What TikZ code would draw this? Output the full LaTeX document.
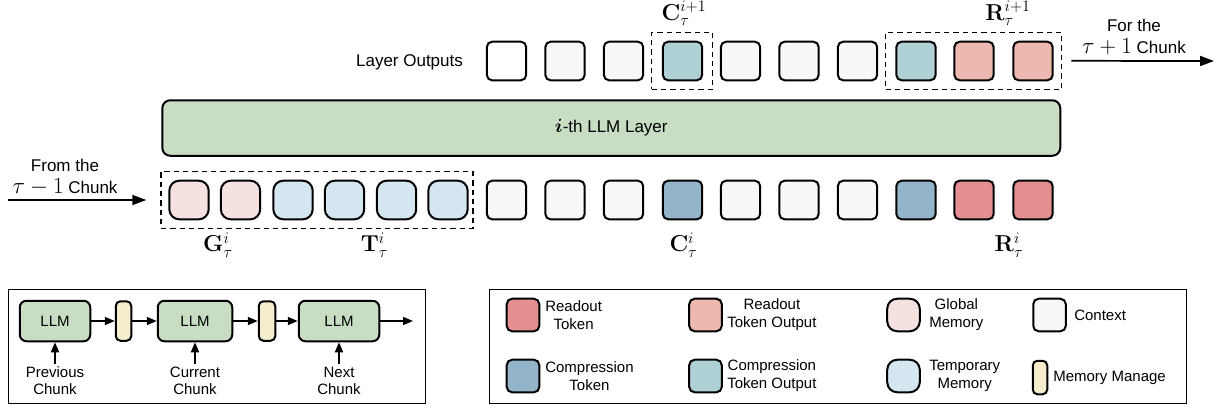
\documentclass[tikz,border=0pt]{standalone}
\usepackage[no-math]{fontspec}
\setmainfont{Liberation Sans}
\usepackage{bm}
\usetikzlibrary{arrows.meta}
\newcommand{\pxu}{0.75pt}
\definecolor{ctxc}{HTML}{F7F7F7}
\definecolor{llmg}{HTML}{C8DDC4}
\definecolor{cmpt}{HTML}{94B5C9}
\definecolor{cmpo}{HTML}{AFD0D4}
\definecolor{rdt}{HTML}{E48F91}
\definecolor{rdo}{HTML}{EDB8AF}
\definecolor{glob}{HTML}{F5E1E0}
\definecolor{temp}{HTML}{D4E7F0}
\definecolor{mman}{HTML}{F5EDCB}
\begin{document}
\begin{tikzpicture}[x=0.75pt,y=-0.75pt,
  tok/.style={draw, line width=1.5pt, rounded corners=4pt, minimum width=29.5pt, minimum height=29pt, inner sep=0pt},
  memtok/.style={tok, rounded corners=7.5pt},
  dbox/.style={draw, line width=1.1pt, dash pattern=on 4pt off 3pt, inner sep=0pt},
  lbl/.style={font=\fontsize{12.75}{15}\selectfont, align=center, inner sep=0pt},
  mth/.style={inner sep=0pt, font=\fontsize{17}{20}\selectfont},
  big/.style={line width=1.3pt, -{Triangle[length=10.5pt,width=7.5pt]}},
  small/.style={line width=1.2pt, -{Triangle[length=7.5pt,width=6pt]}},
  sllm/.style={draw, line width=1.5pt, fill=llmg, rounded corners=5pt, minimum height=40.5*\pxu, inner sep=0pt, font=\fontsize{11.25}{13}\selectfont},
  smem/.style={draw, line width=1.5pt, fill=mman, rounded corners=3.5pt, inner sep=0pt},
  frame/.style={draw, line width=1pt, inner sep=0pt},
  leg/.style={font=\fontsize{11.25}{13.5}\selectfont, align=center, inner sep=0pt, anchor=west},
  lsq/.style={draw, line width=1.5pt, rounded corners=4pt, minimum width=24.4pt, minimum height=24.4pt, inner sep=0pt},
  lsqm/.style={lsq, rounded corners=7.5pt}
]
\useasboundingbox (0,0) rectangle (1223,412);

% top row (layer outputs)
\node[tok, fill=white] (t1) at (506.5,61) {};
\node[tok, fill=ctxc] (t2) at (565,61) {};
\node[tok, fill=ctxc] (t3) at (623.5,61) {};
\node[tok, fill=cmpo] (t4) at (682.5,61) {};
\node[tok, fill=ctxc] (t5) at (740.5,61) {};
\node[tok, fill=ctxc] (t6) at (799,61) {};
\node[tok, fill=ctxc] (t7) at (857.5,61) {};
\node[tok, fill=cmpo] (t8) at (916,61) {};
\node[tok, fill=rdo] (t9) at (974,61) {};
\node[tok, fill=rdo] (t10) at (1033,61) {};

% bottom row
\node[memtok, fill=glob] (b1) at (189,200) {};
\node[memtok, fill=glob] (b2) at (240.5,200) {};
\node[memtok, fill=temp] (b3) at (293,200) {};
\node[memtok, fill=temp] (b4) at (344.5,200) {};
\node[memtok, fill=temp] (b5) at (396.5,200) {};
\node[memtok, fill=temp] (b6) at (448,200) {};
\node[tok, fill=ctxc] (b7) at (506.5,200) {};
\node[tok, fill=ctxc] (b8) at (565,200) {};
\node[tok, fill=ctxc] (b9) at (623.5,200) {};
\node[tok, fill=cmpt] (b10) at (682.5,200) {};
\node[tok, fill=ctxc] (b11) at (740.5,200) {};
\node[tok, fill=ctxc] (b12) at (799,200) {};
\node[tok, fill=ctxc] (b13) at (857.5,200) {};
\node[tok, fill=cmpt] (b14) at (916,200) {};
\node[tok, fill=rdt] (b15) at (974,200) {};
\node[tok, fill=rdt] (b16) at (1033,200) {};

% dashed groups
\node[dbox, minimum width=312*\pxu, minimum height=56.6*\pxu] (gbox) at (317,200) {};
\node[dbox, minimum width=61*\pxu, minimum height=57*\pxu] (cbox) at (682.2,60.8) {};
\node[dbox, minimum width=176*\pxu, minimum height=57*\pxu] (rbox) at (973.7,60.8) {};

% LLM layer
\node[draw, line width=1.5pt, rounded corners=6pt, fill=llmg, minimum width=898*\pxu, minimum height=55.5*\pxu, inner sep=0pt, font=\fontsize{12.75}{15}\selectfont] (layer) at (611.3,128) {{\fontsize{15}{15}\selectfont$\bm{i}$}-th LLM Layer};

% labels
\node[lbl, anchor=base] (lo) at (409.5,66.7) {Layer Outputs};
\node[mth, anchor=base] (lc1) at (684,20) {$\mathbf{C}_{\tau}^{i+1}$};
\node[mth, anchor=base] (lr1) at (1008,20) {$\mathbf{R}_{\tau}^{i+1}$};
\node[mth, anchor=base] (lg) at (218,251.7) {$\mathbf{G}_{\tau}^{i}$};
\node[mth, anchor=base] (lt) at (374.5,251.7) {$\mathbf{T}_{\tau}^{i}$};
\node[mth, anchor=base] (lc) at (683.5,251.7) {$\mathbf{C}_{\tau}^{i}$};
\node[mth, anchor=base] (lr) at (1009,251.7) {$\mathbf{R}_{\tau}^{i}$};

\node[lbl, font=\fontsize{12.75}{16.5}\selectfont] (from) at (65,177) {From the\\{\fontsize{16.5}{16.5}\selectfont$\tau-1$} Chunk};
\node[lbl, font=\fontsize{12.75}{16.5}\selectfont] (fort) at (1134,37.5) {For the\\{\fontsize{16.5}{16.5}\selectfont$\tau+1$} Chunk};

\coordinate (inS) at (8,200);
\coordinate (outE) at (1214,61);
\draw[big, shorten >=14*\pxu] (inS) -- (gbox.west);
\draw[big, shorten <=9*\pxu] (rbox.east) -- (outE);

% bottom-left flow panel
\node[frame, minimum width=417*\pxu, minimum height=114*\pxu] (flow) at (217,346.5) {};
\node[sllm, minimum width=70.5*\pxu] (L1) at (55,321) {LLM};
\node[sllm, minimum width=74.5*\pxu] (L2) at (195,321) {LLM};
\node[sllm, minimum width=80.5*\pxu] (L3) at (339,321) {LLM};
\node[smem, minimum width=15.5*\pxu, minimum height=39.5*\pxu] (M1) at (123.5,321) {};
\node[smem, minimum width=16.5*\pxu, minimum height=39.5*\pxu] (M2) at (267,321) {};
\coordinate (fOut) at (413,321);
\draw[small] (L1) -- (M1);
\draw[small] (M1) -- (L2);
\draw[small] (L2) -- (M2);
\draw[small] (M2) -- (L3);
\draw[small] (L3) -- (fOut);
\node[leg, anchor=center, font=\fontsize{11.25}{12.75}\selectfont] (pc) at (55,381) {Previous\\Chunk};
\node[leg, anchor=center, font=\fontsize{11.25}{12.75}\selectfont] (cc) at (195,381) {Current\\Chunk};
\node[leg, anchor=center, font=\fontsize{11.25}{12.75}\selectfont] (nc) at (339,381) {Next\\Chunk};
\draw[small, shorten <=2pt] (pc.north) -- (L1.south);
\draw[small, shorten <=2pt] (cc.north) -- (L2.south);
\draw[small, shorten <=2pt] (nc.north) -- (L3.south);

% legend panel
\node[frame, minimum width=697*\pxu, minimum height=114*\pxu] (legend) at (838,346.5) {};
\node[lsq, fill=rdt] (q1) at (523,315) {};
\node[leg] (q1t) at (545,315) {Readout\\Token};
\node[lsq, fill=cmpt] (q2) at (523,376) {};
\node[leg] (q2t) at (545,376) {Compression\\Token};
\node[lsq, fill=rdo] (q3) at (705.5,315) {};
\node[leg] (q3t) at (727,315) {Readout\\Token Output};
\node[lsq, fill=cmpo] (q4) at (705.5,376) {};
\node[leg] (q4t) at (727,376) {Compression\\Token Output};
\node[lsqm, fill=glob] (q5) at (903.5,315) {};
\node[leg] (q5t) at (929,315) {Global\\Memory};
\node[lsqm, fill=temp] (q6) at (903.5,376) {};
\node[leg] (q6t) at (929,376) {Temporary\\Memory};
\node[lsq, fill=ctxc] (q7) at (1049.5,315) {};
\node[leg] (q7t) at (1074,315) {Context};
\node[smem, minimum width=14.5*\pxu, minimum height=33.5*\pxu] (q8) at (1040,377.5) {};
\node[leg] (q8t) at (1053,378) {Memory Manage};
\end{tikzpicture}
\end{document}
